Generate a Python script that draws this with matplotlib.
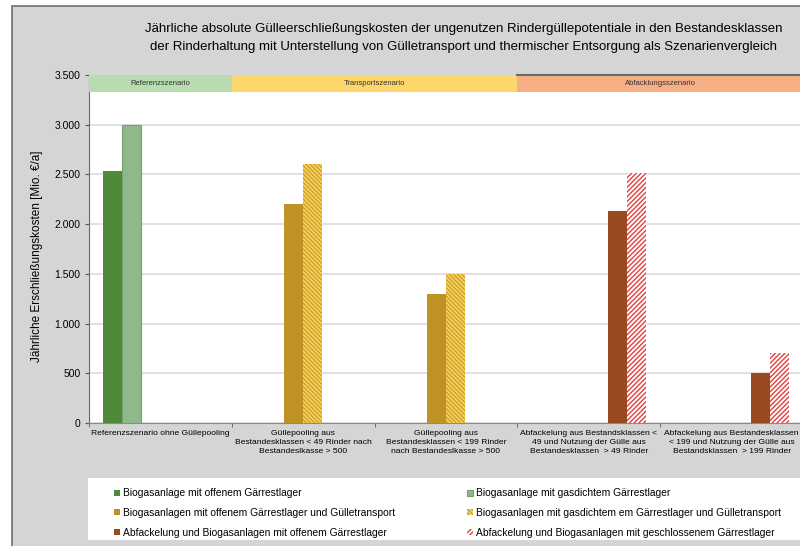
import matplotlib.pyplot as plt
import matplotlib.patches as mpatches
import numpy as np

# Kategorien (x-Achse)
kategorien = ["Referenzszenario ohne Güllepooling",
              "Güllepooling aus\nBestandesklassen < 49 Rinder nach\nBestandeslkasse > 500",
              "Güllepooling aus\nBestandesklassen < 199 Rinder\nnach Bestandeslkasse > 500",
              "Abfackelung aus Bestandsklassen <\n49 und Nutzung der Gülle aus\nBestandesklassen  > 49 Rinder",
              "Abfackelung aus Bestandesklassen\n< 199 und Nutzung der Gülle aus\nBestandsklassen  > 199 Rinder"]

# Kosten je Reihe [Mio. €/a]
bio_offen = [2530, np.nan, np.nan, np.nan, np.nan]
bio_gasdicht = [3000, np.nan, np.nan, np.nan, np.nan]
trans_offen = [np.nan, 2200, 1300, np.nan, np.nan]
trans_gasdicht = [np.nan, 2600, 1500, np.nan, np.nan]
fackel_offen = [np.nan, np.nan, np.nan, 2130, 500]
fackel_geschl = [np.nan, np.nan, np.nan, 2510, 700]

reihen_namen = ["Biogasanlage mit offenem Gärrestlager",
                "Biogasanlage mit gasdichtem Gärrestlager",
                "Biogasanlagen mit offenem Gärrestlager und Gülletransport",
                "Biogasanlagen mit gasdichtem em Gärrestlager und Gülletransport",
                "Abfackelung und Biogasanlagen mit offenem Gärrestlager",
                "Abfackelung und Biogasanlagen mit geschlossenem Gärrestlager"]

szenarien = ["Referenzszenario", "Transportszenario", "Abfacklungsszenario"]
szenario_bereich = [(-0.5, 0.5), (0.5, 2.5), (2.5, 4.5)]
szenario_farben = ["#b6dcb0", "#fdd66c", "#f6ae85"]

yticks = [0, 500, 1000, 1500, 2000, 2500, 3000, 3500]

plt.rcParams['font.family'] = ['Liberation Sans', 'DejaVu Sans']
plt.rcParams['hatch.linewidth'] = 1.0

fig = plt.figure(figsize=(8, 5.46), dpi=100)
fig.patch.set_facecolor('white')
# grauer Rahmen
fig.patches.append(mpatches.Rectangle((12 / 800, -0.01), 1.0, 1 - 6 / 546 + 0.01,
                                      transform=fig.transFigure, facecolor='#d5d5d5',
                                      edgecolor='#6f6f6f', lw=1.2, zorder=-2))
# weisser Legendenkasten
fig.patches.append(mpatches.Rectangle((88 / 800, 6 / 546), 0.9, 62 / 546,
                                      transform=fig.transFigure, facecolor='white',
                                      edgecolor='none', zorder=-1))

ax = fig.add_axes([89 / 800, 1 - 423 / 546, 714 / 800, 348 / 546])
ax.set_facecolor('white')

x = np.arange(len(kategorien))
w = 0.133
stile = [dict(color='#4f8a3a'),
         dict(facecolor='#8fb98a', edgecolor='#789f70', lw=0.8),
         dict(color='#bf9226'),
         dict(facecolor='#f6d46a', edgecolor='#d2a020', hatch='\\' * 8, lw=0),
         dict(color='#9a4a20'),
         dict(facecolor='white', edgecolor='#e23f3f', hatch='/' * 7, lw=0)]
werte = [bio_offen, bio_gasdicht, trans_offen, trans_gasdicht, fackel_offen, fackel_geschl]
handles = []
for k, (v, st) in enumerate(zip(werte, stile)):
    b = ax.bar(x + (k - 2.5) * w, v, w, label=reihen_namen[k], zorder=3, **st)
    handles.append(b)

ax.set_xlim(-0.5, 4.5)
ax.set_ylim(0, 3500)
ax.set_yticks(yticks)
ax.set_yticklabels([f"{t:,}".replace(",", ".") for t in yticks], fontsize=7.5)
ax.yaxis.grid(True, color='#dcdcdc', lw=1.2, zorder=0)
ax.set_axisbelow(True)

ax.set_xticks(x)
ax.set_xticklabels(kategorien, fontsize=6.1, linespacing=1.45)
ax.tick_params(axis='x', length=0, pad=5)
ax.set_xticks(np.arange(-0.5, 5, 1), minor=True)
ax.tick_params(axis='x', which='minor', length=3, direction='out', color='#555555')
ax.tick_params(axis='y', length=3, color='#555555', pad=3)

for s in ['top', 'right']:
    ax.spines[s].set_visible(False)
ax.spines['left'].set_color('#6a6a6a')
ax.spines['bottom'].set_color('#8a8a8a')

# Szenarienbänder oben
for name, (x0, x1), fc in zip(szenarien, szenario_bereich, szenario_farben):
    ax.fill_between([x0, x1], 3330, 3500, color=fc, lw=0, zorder=4)
    ax.text((x0 + x1) / 2, 3415, name, ha='center', va='center', fontsize=5.5,
            color='#333333', zorder=5)
ax.plot([2.5, 4.5], [3500, 3500], color='#6a6a6a', lw=1.5, zorder=5, clip_on=False)

ax.set_ylabel("Jährliche Erschließungskosten [Mio. €/a]", fontsize=8.5)
ax.yaxis.set_label_coords(-0.064, 0.48)

fig.text(0.58, 1 - 38 / 546,
         "Jährliche absolute Gülleerschließungskosten der ungenutzen Rindergüllepotentiale in den Bestandesklassen\n"
         "der Rinderhaltung mit Unterstellung von Gülletransport und thermischer Entsorgung als Szenarienvergleich",
         ha='center', va='center', fontsize=9.5, linespacing=1.7)

order = [0, 2, 4, 1, 3, 5]
leg = fig.legend([handles[i] for i in order], [reihen_namen[i] for i in order],
                 ncol=2, loc='center left', bbox_to_anchor=(105 / 800, 33 / 546),
                 frameon=False, prop={'size': 7.4},
                 handlelength=0.55, handleheight=0.55, handletextpad=0.3,
                 columnspacing=7.0, labelspacing=0.95)

fig.savefig("out.png", dpi=100)
